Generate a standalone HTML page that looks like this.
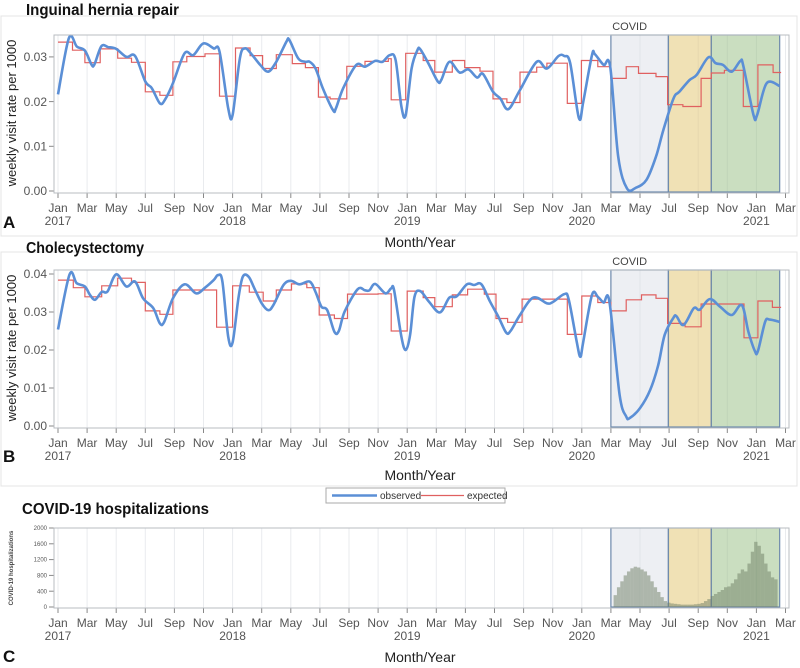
<!DOCTYPE html>
<html><head><meta charset="utf-8">
<style>
html,body{margin:0;padding:0;background:#fff;}
svg{display:block;font-family:"Liberation Sans",sans-serif;}
</style></head>
<body>
<svg id="chart" width="800" height="668" viewBox="0 0 800 668" xmlns="http://www.w3.org/2000/svg">
<g id="static">
  <rect x="1" y="16" width="796" height="220" fill="none" stroke="#e4e4e4"/>
  <rect x="1" y="252" width="796" height="234" fill="none" stroke="#e4e4e4"/>
  <text x="26" y="15" font-size="16" font-weight="bold" fill="#111" textLength="153" lengthAdjust="spacingAndGlyphs">Inguinal hernia repair</text>
  <text x="26" y="253" font-size="16" font-weight="bold" fill="#111" textLength="118" lengthAdjust="spacingAndGlyphs">Cholecystectomy</text>
  <text x="22" y="514" font-size="16" font-weight="bold" fill="#111" textLength="187" lengthAdjust="spacingAndGlyphs">COVID-19 hospitalizations</text>
  <text x="3" y="228" font-size="17" font-weight="bold" fill="#111">A</text>
  <text x="3" y="462" font-size="17" font-weight="bold" fill="#111">B</text>
  <text x="3" y="662" font-size="17" font-weight="bold" fill="#111">C</text>
  <text x="420" y="247" font-size="14" text-anchor="middle" fill="#222">Month/Year</text>
  <text x="420" y="480" font-size="14" text-anchor="middle" fill="#222">Month/Year</text>
  <text x="420" y="662" font-size="14" text-anchor="middle" fill="#222">Month/Year</text>
  <text transform="translate(16,113) rotate(-90)" font-size="13" text-anchor="middle" fill="#222">weekly visit rate per 1000</text>
  <text transform="translate(16,348) rotate(-90)" font-size="13" text-anchor="middle" fill="#222">weekly visit rate per 1000</text>
  <text transform="translate(13,568) rotate(-90)" font-size="6" font-weight="bold" text-anchor="middle" fill="#444">COVID-19 hospitalizations</text>
  <g>
    <rect x="326" y="488" width="179" height="15" fill="#fff" stroke="#aaa"/>
    <line x1="332" y1="495.5" x2="377" y2="495.5" stroke="#5b8fd6" stroke-width="2.5"/>
    <text x="380" y="499" font-size="10" fill="#333">observed</text>
    <line x1="421" y1="495.5" x2="464" y2="495.5" stroke="#e06060" stroke-width="1.2"/>
    <text x="467" y="499" font-size="10" fill="#333">expected</text>
  </g>
</g>
<g id="dyn"></g>
</svg>
<script>
// ---- data ----
const monthLabels = ["Jan","Mar","May","Jul","Sep","Nov"];
const yearLabels = ["2017","2018","2019","2020","2021"];
const covidPhases = [38.0, 41.95, 44.9, 49.6]; // months since Jan 2017: phase boundaries
const yTicksA = [0, 0.01, 0.02, 0.03];
const yTickLabelsA = ["0.00","0.01","0.02","0.03"];
const yTicksB = [0, 0.01, 0.02, 0.03, 0.04];
const yTickLabelsB = ["0.00","0.01","0.02","0.03","0.04"];
const yTicksC = [0,400,800,1200,1600,2000];

const obsTA = [0,0.75,1.3,1.85,2.3,2.5,2.98,3.45,4.0,4.7,5.3,6.0,6.45,7.0,7.35,7.9,8.7,9.3,9.98,10.7,11.1,11.7,12.0,12.5,12.85,13.3,13.9,14.45,15.0,15.7,15.9,16.5,16.98,17.3,17.7,18.2,18.9,19.1,19.6,20.5,21.1,21.8,22.3,22.8,23.2,23.6,23.9,24.3,24.7,24.9,25.45,26.1,26.35,26.9,27.6,28.2,28.8,29.2,29.9,30.4,30.95,31.75,32.9,33.6,34.4,34.8,35.2,35.8,36.1,36.7,36.9,37.5,37.95,38.5,39.1,39.7,40.45,41.1,41.6,42.3,42.7,43.4,43.9,44.7,45.2,45.7,46.3,46.9,47.1,47.8,48.05,48.7,49.6];
const obsA = [0.0216,0.0342,0.0323,0.0314,0.0283,0.0283,0.0324,0.0322,0.0318,0.0300,0.0302,0.0245,0.0230,0.0196,0.0204,0.0241,0.0308,0.0304,0.0330,0.0319,0.0312,0.0185,0.0170,0.0297,0.0319,0.0306,0.0282,0.0267,0.0289,0.0334,0.0338,0.0297,0.0289,0.0289,0.0274,0.0230,0.0181,0.0185,0.0230,0.0282,0.0278,0.0291,0.0289,0.0304,0.0293,0.0189,0.0170,0.0274,0.0315,0.0317,0.0286,0.0245,0.0249,0.0289,0.0265,0.0272,0.0254,0.0262,0.0222,0.0207,0.0183,0.0226,0.0289,0.0274,0.0302,0.0302,0.0286,0.0163,0.0200,0.0304,0.0306,0.0282,0.0278,0.0077,0.0006,0.0007,0.0025,0.0077,0.0136,0.0207,0.0222,0.0248,0.0260,0.0299,0.0286,0.0282,0.0267,0.0291,0.0280,0.0170,0.0170,0.0241,0.0235];
const expStartA = [0,1.0,1.85,2.9,4.1,5.05,6.0,7.0,7.9,8.85,10.1,11.1,12.2,13.2,14.06,15.0,16.1,17.0,17.9,18.7,19.85,21.1,22.7,22.9,23.9,25.1,25.9,27.1,27.95,29.0,29.9,30.85,31.75,32.9,33.6,35.0,35.97,37.1,38.0,39.05,39.9,41.1,41.9,42.95,44.2,44.9,45.8,47.1,48.1,49.15,49.7];
const expA = [0.0333,0.0315,0.0287,0.0318,0.0297,0.0288,0.0222,0.0214,0.0289,0.0301,0.0307,0.0212,0.0320,0.0303,0.0274,0.0305,0.0285,0.0276,0.0210,0.0206,0.0279,0.0290,0.0296,0.0204,0.0308,0.0292,0.0266,0.0292,0.0276,0.0268,0.0206,0.0198,0.0266,0.0277,0.0286,0.0196,0.0292,0.0278,0.0252,0.0278,0.0263,0.0256,0.0193,0.0189,0.0252,0.0264,0.0270,0.0189,0.0282,0.0265,0.0265];

const obsTB = [0,0.8,1.28,1.85,2.2,2.55,3.0,3.4,4.0,4.7,5.3,5.85,6.55,7.0,7.3,7.9,8.7,9.5,10.1,10.7,11.0,11.3,11.7,12.0,12.4,12.7,13.1,13.5,14.0,14.45,14.8,15.5,16.0,16.6,17.3,17.7,18.1,18.5,19.0,19.3,19.7,20.6,21.1,21.4,21.8,22.5,22.9,23.1,23.6,23.9,24.2,24.5,24.9,25.5,26.25,26.9,27.4,28.1,28.6,29.1,29.7,30.26,30.8,31.1,31.75,32.66,33.6,34.0,34.8,35.1,35.65,35.9,36.1,36.7,37.1,37.5,37.9,38.6,39.05,39.3,40.0,40.7,41.25,41.7,42.3,42.5,43.0,43.7,44.1,44.8,45.5,46.3,47.0,47.45,47.9,48.1,48.6,48.9,49.6];
const obsB = [0.0254,0.0399,0.0376,0.0367,0.0345,0.0332,0.0353,0.0354,0.0399,0.0367,0.0380,0.0336,0.0310,0.0270,0.0274,0.0336,0.0373,0.0349,0.0364,0.0384,0.0397,0.0380,0.0235,0.0220,0.0336,0.0393,0.0393,0.0362,0.0323,0.0305,0.0318,0.0371,0.0382,0.0373,0.0380,0.0353,0.0314,0.0305,0.0248,0.0250,0.0301,0.0360,0.0357,0.0357,0.0374,0.0349,0.0362,0.0357,0.0235,0.0200,0.0240,0.0340,0.0355,0.0327,0.0299,0.0338,0.0341,0.0373,0.0371,0.0373,0.0327,0.0288,0.0246,0.0250,0.0292,0.0338,0.0323,0.0326,0.0347,0.0333,0.0222,0.0182,0.0222,0.0345,0.0340,0.0325,0.0327,0.0082,0.0025,0.0021,0.0047,0.0095,0.0160,0.0240,0.0285,0.0289,0.0266,0.0310,0.0306,0.0334,0.0314,0.0292,0.0318,0.0248,0.0197,0.0197,0.0274,0.0280,0.0274];
const expStartB = [0,1.05,1.85,3.0,4.1,5.05,6.0,7.0,7.9,10.9,12.0,13.15,14.1,15.0,16.05,17.1,17.95,19.0,19.9,22.0,22.9,24.0,25.1,25.9,27.1,28.15,29.3,30.1,30.9,31.9,35.0,36.0,37.1,38.0,39.05,40.1,41.1,41.9,43.1,44.2,47.15,48.1,49.1,49.7];
const expB = [0.0384,0.0364,0.0340,0.0369,0.0389,0.0378,0.0303,0.0294,0.0358,0.0260,0.0369,0.0352,0.0329,0.0358,0.0374,0.0364,0.0292,0.0283,0.0347,0.0348,0.0250,0.0355,0.0338,0.0314,0.0345,0.0360,0.0347,0.0283,0.0273,0.0334,0.0241,0.0342,0.0325,0.0303,0.0332,0.0345,0.0336,0.0270,0.0261,0.0321,0.0232,0.0329,0.0312,0.0312];

const hospStart = 38.3; // first week (months since Jan 2017)
const hospWeekly = [300,500,650,800,900,980,1020,1000,950,900,800,650,500,380,250,150,110,90,80,70,60,60,60,60,70,80,100,150,200,280,330,380,430,500,520,600,700,850,950,900,1100,1400,1650,1550,1350,1100,900,750,700];

// ---- drawing ----
const NS = "http://www.w3.org/2000/svg";
const root = document.getElementById('dyn');
function mk(tag, attrs, parent){
  const e = document.createElementNS(NS, tag);
  for (const k in attrs) e.setAttribute(k, attrs[k]);
  (parent||root).appendChild(e);
  return e;
}
const X = m => 58 + m * 14.55;
const L = 54, R = 789;

function drawAxes(top, bottom, yScale, ticks, tickLabels, fontSize, prefix){
  const g = mk('g', {});
  
  
  for (let m = 0; m <= 50; m += 2){
    mk('line', {x1:X(m), y1:top, x2:X(m), y2:bottom, stroke:'#e9ebee', 'stroke-width':1}, g);
    mk('line', {x1:X(m), y1:bottom, x2:X(m), y2:bottom+5, stroke:'#888', 'stroke-width':1}, g);
    const t = mk('text', {x:X(m), y:bottom+19, 'font-size':12, 'text-anchor':'middle', fill:'#555'}, g);
    t.textContent = monthLabels[(m/2)%6];
    
    
    if (m % 12 === 0){
      const y = mk('text', {x:X(m), y:bottom+32, 'font-size':12, 'text-anchor':'middle', fill:'#555'}, g);
      y.textContent = yearLabels[m/12];
      
      
    }
  }
  ticks.forEach((v, i) => {
    const yy = yScale(v);
    mk('line', {x1:L-5, y1:yy, x2:L, y2:yy, stroke:'#888'}, g);
    const t = mk('text', {x:L-7, y:yy+fontSize*0.35, 'font-size':fontSize, 'text-anchor':'end', fill:'#555'}, g);
    t.textContent = tickLabels[i];
    
    
  });
}
function drawFrame(top, bottom, prefix){
  const r = mk('rect', {x:L, y:top, width:R-L, height:bottom-top, fill:'none', stroke:'#b8bcc2', 'stroke-width':1});
  
  
}
function drawCovid(top, bottom, prefix, label){
  const fills = ['rgba(215,220,228,0.45)','rgba(228,200,120,0.55)','rgba(150,190,130,0.5)'];
  const names = ['covid-phase-1','covid-phase-2','covid-phase-3'];
  for (let i = 0; i < 3; i++){
    const r = mk('rect', {x:X(covidPhases[i]), y:top, width:X(covidPhases[i+1])-X(covidPhases[i]), height:bottom-top, fill:fills[i], stroke:'#6e8aac', 'stroke-width':1.2});
    
    
  }
  if (label){
    const t = mk('text', {x:(X(covidPhases[0])+X(covidPhases[1]))/2 - 10, y:top-5, 'font-size':11, 'text-anchor':'middle', fill:'#444'});
    t.textContent = 'COVID';
    
    
  }
}
function smoothPath(ts, vs, yScale){
  const pts = ts.map((t,i)=>[X(t), yScale(vs[i])]);
  let d = 'M' + pts[0][0].toFixed(1) + ',' + pts[0][1].toFixed(1);
  for (let i = 0; i < pts.length-1; i++){
    const p0 = pts[Math.max(0,i-1)], p1 = pts[i], p2 = pts[i+1], p3 = pts[Math.min(pts.length-1,i+2)];
    const c1x = p1[0] + (p2[0]-p0[0])/6, c1y = p1[1] + (p2[1]-p0[1])/6;
    const c2x = p2[0] - (p3[0]-p1[0])/6, c2y = p2[1] - (p3[1]-p1[1])/6;
    d += ' C' + c1x.toFixed(1)+','+c1y.toFixed(1)+' '+c2x.toFixed(1)+','+c2y.toFixed(1)+' '+p2[0].toFixed(1)+','+p2[1].toFixed(1);
  }
  return d;
}
function stepPath(starts, vals, yScale){
  let d = '';
  for (let i = 0; i < vals.length; i++){
    const x0 = X(starts[i]);
    const x1 = X(i+1 < starts.length ? starts[i+1] : starts[i]);
    const y = yScale(vals[i]).toFixed(1);
    d += (i===0 ? 'M' : ' L') + x0.toFixed(1) + ',' + y + ' L' + x1.toFixed(1) + ',' + y;
  }
  return d;
}
function drawSeries(obsT, obs, expS, exp, yScale, prefix){
  const e = mk('path', {d:stepPath(expS, exp, yScale), fill:'none', stroke:'#e06060', 'stroke-width':1.2});
  
  
  const o = mk('path', {d:smoothPath(obsT, obs, yScale), fill:'none', stroke:'#5b8fd6', 'stroke-width':2.6, 'stroke-linejoin':'round'});
  
  
}

// Panel A
const yA = v => 191 - v * 4470;
drawAxes(35, 193, yA, yTicksA, yTickLabelsA, 12, 'panel-a');
drawCovid(35, 192, 'panel-a', true);
drawSeries(obsTA, obsA, expStartA, expA, yA, 'panel-a');
drawFrame(35, 193, 'panel-a');

// Panel B
const yB = v => 426 - v * 3800;
drawAxes(270, 428, yB, yTicksB, yTickLabelsB, 12, 'panel-b');
drawCovid(270, 427, 'panel-b', true);
drawSeries(obsTB, obsB, expStartB, expB, yB, 'panel-b');
drawFrame(270, 428, 'panel-b');

// Panel C
const yC = v => 607 - v * 0.0395;
drawAxes(528, 608, yC, yTicksC, yTicksC.map(String), 6, 'panel-c');
drawCovid(528, 607, 'panel-c', false);
const weekW = 0.23 * 14.55;
hospWeekly.forEach((v, i) => {
  const m = hospStart + i * 0.23;
  const b = mk('rect', {x:X(m)-weekW/2, y:yC(v), width:weekW, height:yC(0)-yC(v), fill:'rgba(110,125,100,0.5)'});
  
  
});
drawFrame(528, 608, 'panel-c');
</script>
</body></html>
